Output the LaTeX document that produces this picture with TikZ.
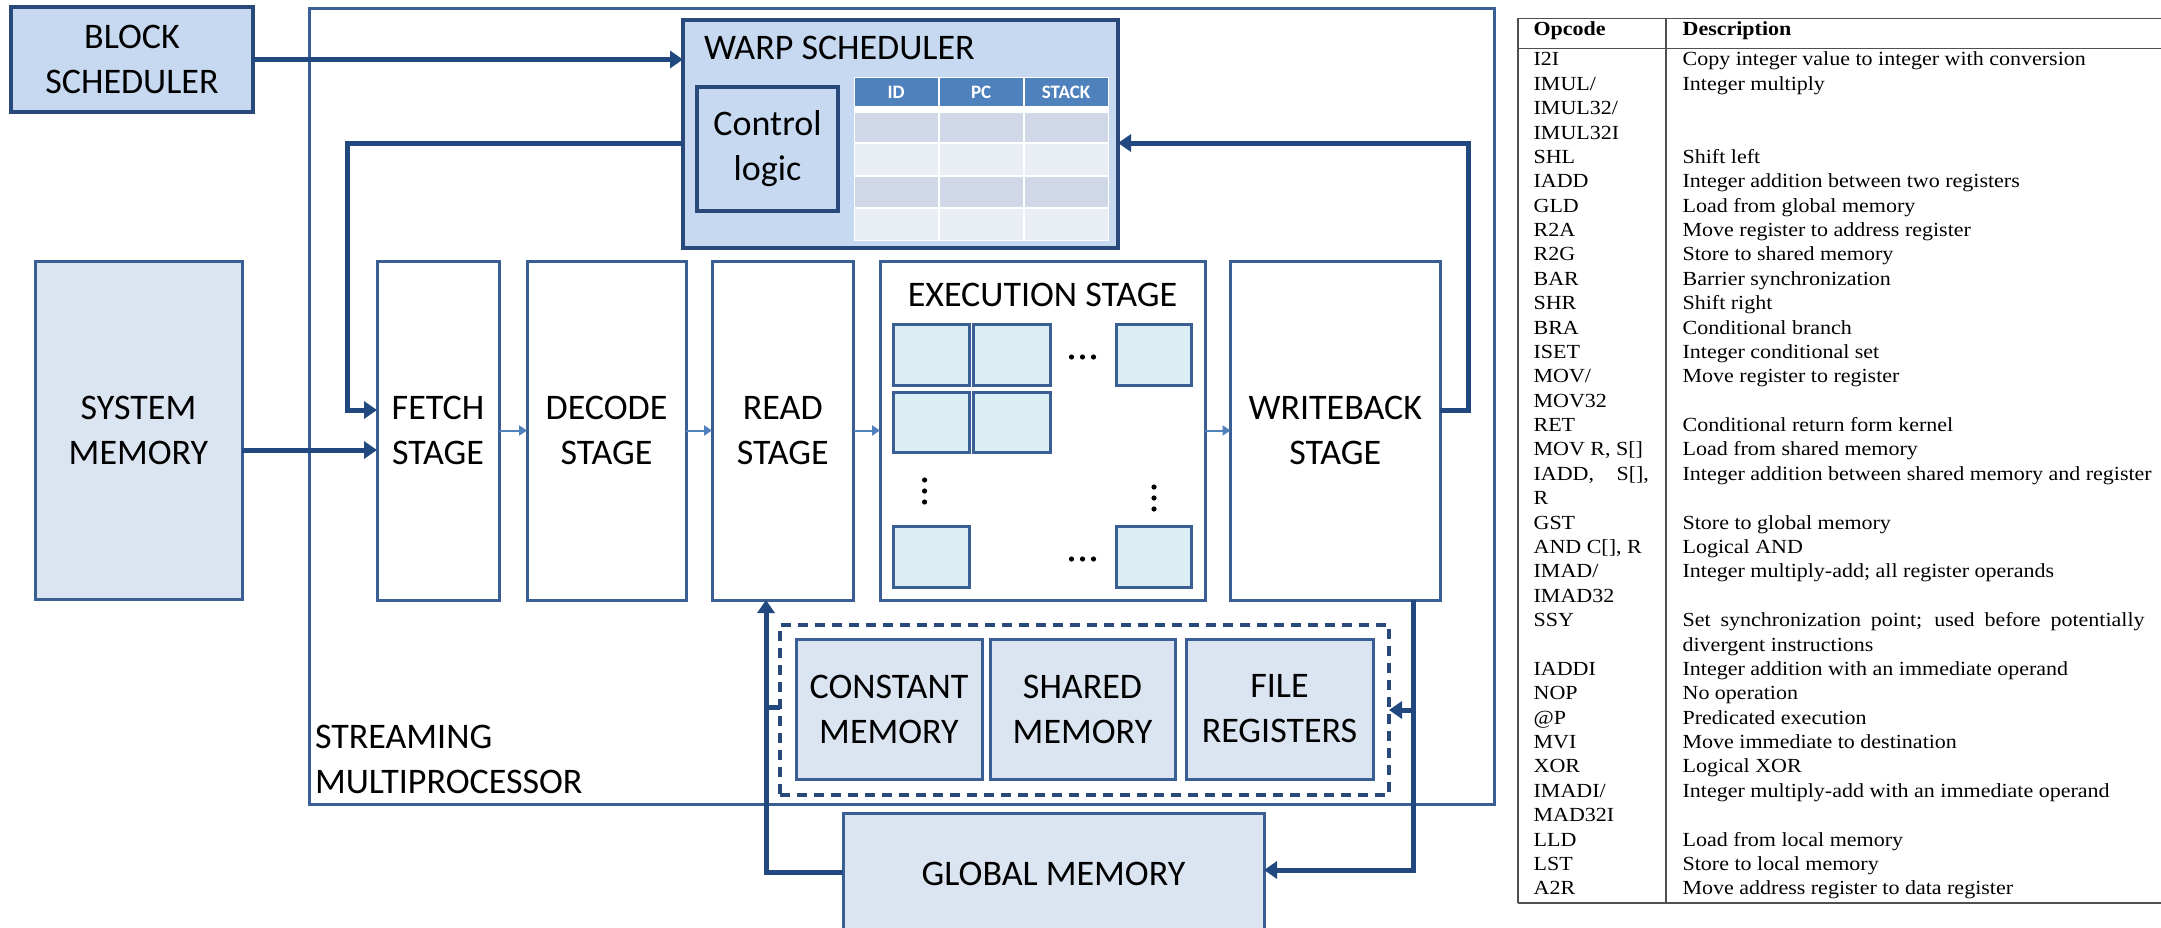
\documentclass[tikz,border=0pt]{standalone}
\usepackage{fontspec}
\setmainfont{Carlito}
\newfontfamily\tabfont[FakeStretch=1.1]{Liberation Serif}
\usetikzlibrary{arrows.meta}
\definecolor{navy}{HTML}{22497F}
\definecolor{bord}{HTML}{3A5F94}
\definecolor{darkb}{HTML}{28497A}
\definecolor{lightblue}{HTML}{C6D9F1}
\definecolor{memfill}{HTML}{DBE5F1}
\definecolor{exefill}{HTML}{DAEEF3}
\definecolor{hdrblue}{HTML}{4F81BD}
\definecolor{rowa}{HTML}{D0D8E8}
\definecolor{rowb}{HTML}{E9EDF4}
\definecolor{rulegray}{HTML}{505050}
\newcommand\bx[7]{\node[#6, anchor=north west, minimum width={((#4)-(#2))*0.5pt}, minimum height={((#5)-(#3))*0.5pt}] (#1) at (#2,#3) {#7};}
\newcommand\trow[3]{%
 \node[tcell] (o#1) at (1533.6,{65.9+24.38*#1}) {#2};
 \node[tcell] (d#1) at (1682.6,{65.9+24.38*#1}) {#3};}
\tikzset{
 box/.style={rectangle, draw=bord, line width=1.5pt, inner sep=0pt, outer sep=0pt, align=center, font=\fontsize{18}{22.5}\selectfont},
 dbox/.style={box, draw=darkb, line width=2pt},
 cell/.style={rectangle, inner sep=0pt, outer sep=0pt, draw=none},
 hcell/.style={cell, fill=hdrblue, text=white, font=\fontsize{9.5}{11}\selectfont\bfseries},
 conn/.style={draw=navy, line width=2.5pt},
 connarrow/.style={conn, -{Triangle[length=6.5pt,width=8.5pt]}},
 flow/.style={draw=hdrblue, line width=1pt, -{Triangle[length=4pt,width=5pt]}},
 tcell/.style={anchor=base west, inner sep=0pt, outer sep=0pt, font=\tabfont\fontsize{10}{12}\selectfont},
 thead/.style={tcell, font=\tabfont\bfseries\fontsize{10}{12}\selectfont},
 rule/.style={draw=rulegray, line width=0.75pt},
 lbl/.style={inner sep=0pt, outer sep=0pt, font=\fontsize{18}{22.5}\selectfont}
}
\begin{document}
\begin{tikzpicture}[x=0.5pt,y=-0.5pt]
\useasboundingbox (0,0) rectangle (2161,927);
\clip (0,0) rectangle (2161,927);
\fill[white] (0,0) rectangle (2161,927);

% streaming multiprocessor frame
\bx{sm}{309}{8}{1494}{804}{box}{}
\node[lbl, anchor=west, align=left] (smlabel) at (315,759.5) {STREAMING\\MULTIPROCESSOR};

% block scheduler
\bx{bs}{11}{7}{253}{112}{dbox, fill=lightblue}{BLOCK\\SCHEDULER}

% warp scheduler
\bx{ws}{683}{20}{1118}{248}{dbox, fill=lightblue}{}
\node[lbl, anchor=west] (wstitle) at (704,48) {WARP SCHEDULER};
\bx{cl}{697}{87}{838}{211}{dbox, fill=lightblue}{Control\\logic}
\fill[white] (853.5,77) rectangle (1108.7,241);
\bx{h1}{854.5}{78}{937.8}{106}{hcell}{ID}
\bx{h2}{939.8}{78}{1022.5}{106}{hcell}{PC}
\bx{h3}{1024.5}{78}{1107.7}{106}{hcell}{STACK}
\foreach \r/\ya/\yb/\f in {1/113/142/rowa,2/144/175/rowb,3/177/207/rowa,4/209/240/rowb}
 \foreach \c/\xa/\xb in {1/854.5/937.8,2/939.8/1022.5,3/1024.5/1107.7}
  {\bx{r\r-\c}{\xa}{\ya}{\xb}{\yb}{cell, fill=\f}{}}

% system memory and pipeline
\bx{sysmem}{35}{261}{242}{599}{box, fill=memfill}{SYSTEM\\MEMORY}
\bx{fetch}{377}{261}{499}{600}{box}{FETCH\\STAGE}
\bx{decode}{527}{261}{686}{600}{box}{DECODE\\STAGE}
\bx{read}{712}{261}{853.5}{600}{box}{READ\\STAGE}
\bx{exec}{880}{261}{1205}{600}{box}{}
\node[lbl] (extitle) at (1042.5,295) {EXECUTION STAGE};
\bx{wb}{1230.5}{261}{1440}{600}{box}{WRITEBACK\\STAGE}

% execution units
\bx{eu11}{893.5}{324}{969}{385}{box, fill=exefill}{}
\bx{eu12}{973}{324}{1050}{385}{box, fill=exefill}{}
\bx{eu13}{1116.5}{324}{1191}{385}{box, fill=exefill}{}
\bx{eu21}{893.5}{392}{969}{452}{box, fill=exefill}{}
\bx{eu22}{973}{392}{1050}{452}{box, fill=exefill}{}
\bx{eu31}{893.5}{526}{969}{587}{box, fill=exefill}{}
\bx{eu33}{1116.5}{526}{1191}{587}{box, fill=exefill}{}
\foreach \xx in {1071.5,1082.5,1093.5} {
 \fill[black] (\xx,357) circle[radius=1.3pt];
 \fill[black] (\xx,559) circle[radius=1.3pt];}
\foreach \yy in {480,491,502} \fill[black] (924.6,\yy) circle[radius=1.3pt];
\foreach \yy in {487,498,509} \fill[black] (1154,\yy) circle[radius=1.3pt];

% memories
\bx{dash}{780}{625}{1389}{795}{box, draw=darkb, line width=1.75pt, dash pattern=on 5pt off 3.5pt}{}
\bx{cm}{796}{639}{982}{779}{box, fill=memfill}{CONSTANT\\MEMORY}
\bx{shm}{990}{639}{1175}{779}{box, fill=memfill}{SHARED\\MEMORY}
\bx{fr}{1186}{639}{1373}{779}{box, fill=memfill}{FILE\\REGISTERS}
\bx{gm}{843}{813}{1264}{935}{box, fill=memfill}{GLOBAL MEMORY}

% connectors
\coordinate (k1) at (347,143);
\coordinate (k2) at (347,410);
\coordinate (k3) at (1468,410);
\coordinate (k4) at (1468,143);
\coordinate (k5) at (0,450);
\coordinate (k6) at (766,872);
\coordinate (k7) at (766,707);
\coordinate (k8) at (1413,870);
\coordinate (k9) at (1413,710);
\draw[connarrow] (bs.east) -- (bs.east -| ws.west);
\draw[connarrow] (ws.west |- k1) -- (k1) -- (k2) -- (k2 -| fetch.west);
\draw[connarrow] (k3 -| wb.east) -- (k3) -- (k4) -- (k4 -| ws.east);
\draw[connarrow] (k5 -| sysmem.east) -- (k5 -| fetch.west);
\draw[flow] (fetch.east) -- (decode.west);
\draw[flow] (decode.east) -- (read.west);
\draw[flow] (read.east) -- (exec.west);
\draw[flow] (exec.east) -- (wb.west);
\draw[connarrow] (k6 -| gm.west) -- (k6) -- (k6 |- read.south);
\draw[conn] (k7) -- (k7 -| dash.west);
\draw[connarrow] (k8 |- wb.south) -- (k8) -- (k8 -| gm.east);
\draw[connarrow] (k9) -- (k9 -| dash.east);

% opcode table
\draw[rule] (1517.8,18.3) -- (2161,18.3);
\draw[rule] (1517.8,48.3) -- (2161,48.3);
\draw[rule] (1517.8,903) -- (2161,903);
\draw[rule] (1517.8,18.3) -- (1517.8,903);
\draw[rule] (1666,18.3) -- (1666,903);
\node[thead] (ohead) at (1533.6,35.6) {Opcode};
\node[thead] (dhead) at (1682.6,35.6) {Description};
\trow{0}{I2I}{Copy integer value to integer with conversion}
\trow{1}{IMUL/}{Integer multiply}
\trow{2}{IMUL32/}{}
\trow{3}{IMUL32I}{}
\trow{4}{SHL}{Shift left}
\trow{5}{IADD}{Integer addition between two registers}
\trow{6}{GLD}{Load from global memory}
\trow{7}{R2A}{Move register to address register}
\trow{8}{R2G}{Store to shared memory}
\trow{9}{BAR}{Barrier synchronization}
\trow{10}{SHR}{Shift right}
\trow{11}{BRA}{Conditional branch}
\trow{12}{ISET}{Integer conditional set}
\trow{13}{MOV/}{Move register to register}
\trow{14}{MOV32}{}
\trow{15}{RET}{Conditional return form kernel}
\trow{16}{MOV R, S[]}{Load from shared memory}
\trow{17}{\makebox[57.7pt][s]{IADD, S[],}}{Integer addition between shared memory and register}
\trow{18}{R}{}
\trow{19}{GST}{Store to global memory}
\trow{20}{AND C[], R}{Logical AND}
\trow{21}{IMAD/}{Integer multiply-add; all register operands}
\trow{22}{IMAD32}{}
\trow{23}{SSY}{\makebox[231pt][s]{Set synchronization point; used before potentially}}
\trow{24}{}{divergent instructions}
\trow{25}{IADDI}{Integer addition with an immediate operand}
\trow{26}{NOP}{No operation}
\trow{27}{@P}{Predicated execution}
\trow{28}{MVI}{Move immediate to destination}
\trow{29}{XOR}{Logical XOR}
\trow{30}{IMADI/}{Integer multiply-add with an immediate operand}
\trow{31}{MAD32I}{}
\trow{32}{LLD}{Load from local memory}
\trow{33}{LST}{Store to local memory}
\trow{34}{A2R}{Move address register to data register}
\end{tikzpicture}
\end{document}
